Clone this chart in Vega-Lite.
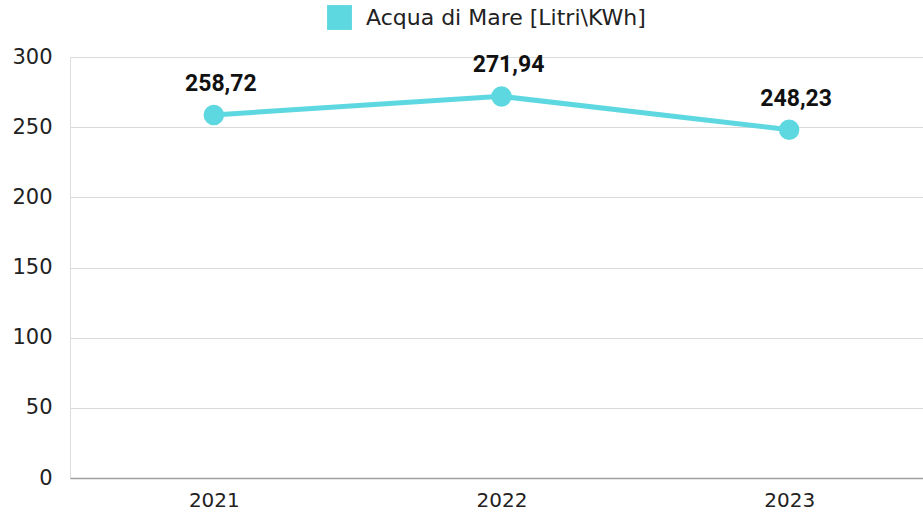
{
  "$schema": "https://vega.github.io/schema/vega-lite/v6.json",
  "autosize": "none",
  "width": 863,
  "height": 421,
  "padding": {"left": 70, "top": 57, "right": 0, "bottom": 34},
  "background": "white",
  "data": {"values": [
    {"anno": "2021", "valore": 258.72, "etichetta": "258,72", "serie": "Acqua di Mare [Litri\\KWh]"},
    {"anno": "2022", "valore": 271.94, "etichetta": "271,94", "serie": "Acqua di Mare [Litri\\KWh]"},
    {"anno": "2023", "valore": 248.23, "etichetta": "248,23", "serie": "Acqua di Mare [Litri\\KWh]"}
  ]},
  "encoding": {
    "x": {"field": "anno", "type": "ordinal", "scale": {"type": "point", "padding": 0.5},
      "axis": {"title": null, "labelAngle": 0, "ticks": false, "domain": true, "domainColor": "#a0a0a0", "domainWidth": 1.5, "labelFontSize": 20, "labelFont": "DejaVu Sans", "labelColor": "#222", "labelPadding": 12, "grid": false}},
    "y": {"field": "valore", "type": "quantitative", "scale": {"domain": [0, 300]},
      "axis": {"title": null, "values": [0, 50, 100, 150, 200, 250, 300], "ticks": false, "domain": false, "gridColor": "#d9d9d9", "gridWidth": 1, "labelFontSize": 21, "labelFont": "DejaVu Sans", "labelColor": "#222", "labelPadding": 18}}
  },
  "layer": [
    {"mark": {"type": "line", "strokeWidth": 5, "color": "#5ed8e0"},
     "encoding": {"color": {"field": "serie", "type": "nominal", "scale": {"range": ["#5ed8e0"]},
       "legend": {"title": null, "orient": "none", "legendX": 257, "legendY": -52, "symbolType": "square", "symbolSize": 620, "symbolStrokeWidth": 0, "labelFontSize": 22, "labelFont": "DejaVu Sans", "labelColor": "#222", "labelOffset": 14, "labelLimit": 0, "symbolFillColor": "#5ed8e0"}}}},
    {"mark": {"type": "point", "filled": true, "size": 420, "opacity": 1, "color": "#5ed8e0"}},
    {"mark": {"type": "text", "fontSize": 23, "fontWeight": "bold", "font": "Roboto", "color": "#111", "dy": -31, "dx": 7},
     "encoding": {"text": {"field": "etichetta"}}}
  ]
}
